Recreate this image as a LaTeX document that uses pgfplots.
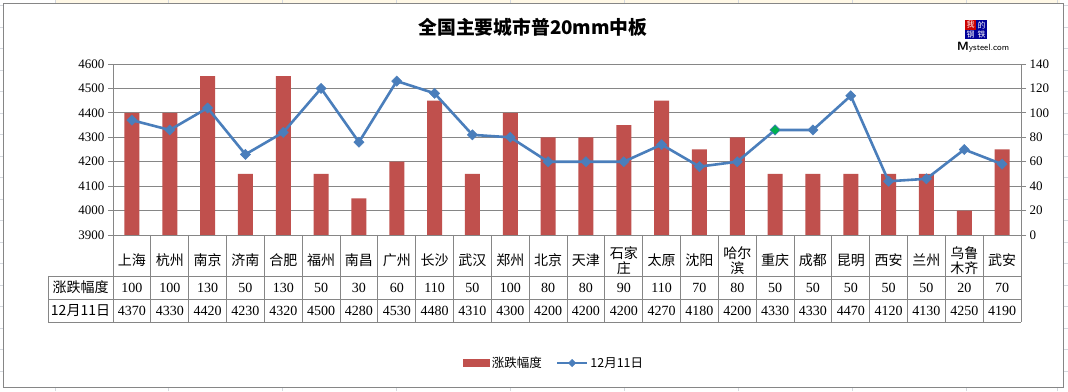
\documentclass[border=0pt]{standalone}
\usepackage{fontspec}
\setmainfont{Liberation Serif}
\newfontfamily\cjk{Noto Sans CJK SC}
\usepackage{pgfplots}
\pgfplotsset{compat=1.18}
\usepackage{pgfplotstable}
\definecolor{barred}{RGB}{192,80,77}
\definecolor{lineblue}{RGB}{74,126,187}
\definecolor{gridgray}{RGB}{134,134,134}
\definecolor{markgreen}{RGB}{0,176,80}
\definecolor{xlgrid}{RGB}{212,216,222}
\definecolor{xlcream}{RGB}{255,248,230}
\pgfplotsset{
  lineleg/.style={legend image code/.code={\draw[##1, mark size=2.6pt, mark repeat=2, mark phase=2] plot coordinates {(0pt,0pt) (15pt,0pt) (30pt,0pt)};}},
  barleg/.style={legend image code/.code={\fill[barred] (0pt,-3.5pt) rectangle (26pt,3.5pt);}},
}

\pgfplotstableread{
i chg price
0 100 4370
1 100 4330
2 130 4420
3 50 4230
4 130 4320
5 50 4500
6 30 4280
7 60 4530
8 110 4480
9 50 4310
10 100 4300
11 80 4200
12 80 4200
13 90 4200
14 110 4270
15 70 4180
16 80 4200
17 50 4330
18 50 4330
19 50 4470
20 50 4120
21 50 4130
22 20 4250
23 70 4190
}\data

\begin{document}
\begin{tikzpicture}[x=1pt,y=1pt]
\path[use as bounding box] (0,0) rectangle (1068,391);
% excel surroundings
\fill[xlcream] (55,388) rectangle (1060,391);
\foreach \yy in {5.5,27,48.5,70,91.5,113,134.5,156,177.5,199,220.5,242,263.5,285,306.5,328,349.5,371}{
  \draw[xlgrid,line width=0.6pt] (0,391-\yy) -- (3,391-\yy);
  \draw[xlgrid,line width=0.6pt] (1063,391-\yy) -- (1068,391-\yy);
}
\foreach \xx in {55,168,282,396,510,624,738,852,966,1057}{
  \draw[xlgrid,line width=0.6pt] (\xx,388) -- (\xx,391);
  \draw[xlgrid,line width=0.6pt] (\xx,0) -- (\xx,4);
}
% chart border
\draw[gridgray,line width=0.8pt,fill=white] (3,4) rectangle (1063,388);

% title
\node[font=\cjk\bfseries\fontsize{18.8}{20}\selectfont] at (533,364) {全国主要城市普20mm中板};
% logo
\fill[red!80!black] (965,361) rectangle (976,371);
\fill[blue!60!black] (976,361) rectangle (987,371);
\fill[blue!60!black] (965,352) rectangle (976,361);
\fill[blue!60!black] (976,352) rectangle (987,361);
\node[text=white,font=\cjk\fontsize{8}{8}\selectfont,inner sep=0pt] at (970.5,366) {我};
\node[text=white,font=\cjk\fontsize{8}{8}\selectfont,inner sep=0pt] at (981.5,366) {的};
\node[text=white,font=\cjk\fontsize{8}{8}\selectfont,inner sep=0pt] at (970.5,356.5) {钢};
\node[text=white,font=\cjk\fontsize{8}{8}\selectfont,inner sep=0pt] at (981.5,356.5) {铁};
\node[font=\sffamily\fontsize{9}{10}\selectfont,inner sep=0pt,anchor=west] at (957,344) {\textbf{\large M}ysteel.com};

% table grid
\draw[gridgray,line width=0.8pt] (48,115) -- (1021,115);
\draw[gridgray,line width=0.8pt] (48,92) -- (1021,92);
\draw[gridgray,line width=0.8pt] (48,69) -- (1021,69);
\draw[gridgray,line width=0.8pt] (48,115) -- (48,69);
\foreach \k in {0,...,24}{
  \draw[gridgray,line width=0.8pt] (113+\k*37.8333,156) -- (113+\k*37.8333,69);
}
\node[font=\cjk\fontsize{14}{16}\selectfont] at (80.5,103.5) {涨跌幅度};
\node[font=\cjk\fontsize{14}{16}\selectfont] at (80.5,80.5) {12月11日};

% bars on right axis
\begin{axis}[
  at={(113pt,156pt)}, anchor=south west,
  scale only axis, width=908pt, height=171pt,
  xmin=-0.5, xmax=23.5, ymin=0, ymax=140,
  axis x line=none, axis y line*=right,
  ytick={0,20,...,140},
  ymajorgrids, grid style={gridgray,line width=0.8pt},
  tick align=outside, major tick length=5pt,
  y axis line style={gridgray,line width=0.8pt},
  ytick style={gridgray,line width=0.8pt},
  yticklabel style={font=\fontsize{13}{14}\selectfont},
  /pgf/number format/assume math mode=true,
  /pgf/number format/1000 sep={},
]
\addplot[ybar, bar width=15pt, fill=barred, draw=none] table[x=i,y=chg]{\data};
\end{axis}

% line on left axis, category row, data rows, legend
\begin{axis}[
  at={(113pt,156pt)}, anchor=south west,
  scale only axis, width=908pt, height=171pt,
  xmin=-0.5, xmax=23.5, ymin=3900, ymax=4600,
  axis x line*=bottom, axis y line*=left,
  ytick={3900,4000,...,4600},
  xtick={0,...,23},
  xticklabels={上海,杭州,南京,济南,合肥,福州,南昌,广州,长沙,武汉,郑州,北京,天津,{石家\\庄},太原,沈阳,{哈尔\\滨},重庆,成都,昆明,西安,兰州,{乌鲁\\木齐},武安},
  xtick style={draw=none},
  xticklabel style={font=\cjk\fontsize{14}{15.5}\selectfont, align=center, anchor=center, yshift=-20.5pt},
  tick align=outside, major tick length=5pt,
  axis line style={gridgray,line width=0.8pt},
  ytick style={gridgray,line width=0.8pt},
  yticklabel style={font=\fontsize{13}{14}\selectfont},
  /pgf/number format/assume math mode=true,
  /pgf/number format/1000 sep={},
  clip=false,
  legend style={at={(0.486,-0.749)}, anchor=center, draw=none, fill=none,
    legend columns=2, font=\cjk\fontsize{12.5}{14}\selectfont,
    /tikz/every even column/.append style={column sep=12pt}},
]
\addlegendimage{barleg}
\addlegendentry{涨跌幅度}
\addplot[lineblue, line width=2.6pt, mark=square*, mark size=3.6pt,
  mark options={rotate=45, fill=lineblue, draw=lineblue, line width=0.5pt}, lineleg]
  table[x=i,y=price]{\data};
\addlegendentry{12月11日}
\addplot[forget plot, only marks, mark=square*, mark size=3.6pt,
  mark options={rotate=45, fill=markgreen, draw=lineblue, line width=0.5pt}]
  coordinates {(17,4330)};
\addplot[forget plot, draw=none, mark=none, nodes near coords, point meta=explicit symbolic,
  every node near coord/.append style={anchor=center, yshift=-52.5pt, font=\fontsize{14}{16}\selectfont, inner sep=0pt}]
  table[x=i, y expr=3900, meta=chg]{\data};
\addplot[forget plot, draw=none, mark=none, nodes near coords, point meta=explicit symbolic,
  every node near coord/.append style={anchor=center, yshift=-75.5pt, font=\fontsize{14}{16}\selectfont, inner sep=0pt}]
  table[x=i, y expr=3900, meta=price]{\data};
\end{axis}
\end{tikzpicture}
\end{document}
